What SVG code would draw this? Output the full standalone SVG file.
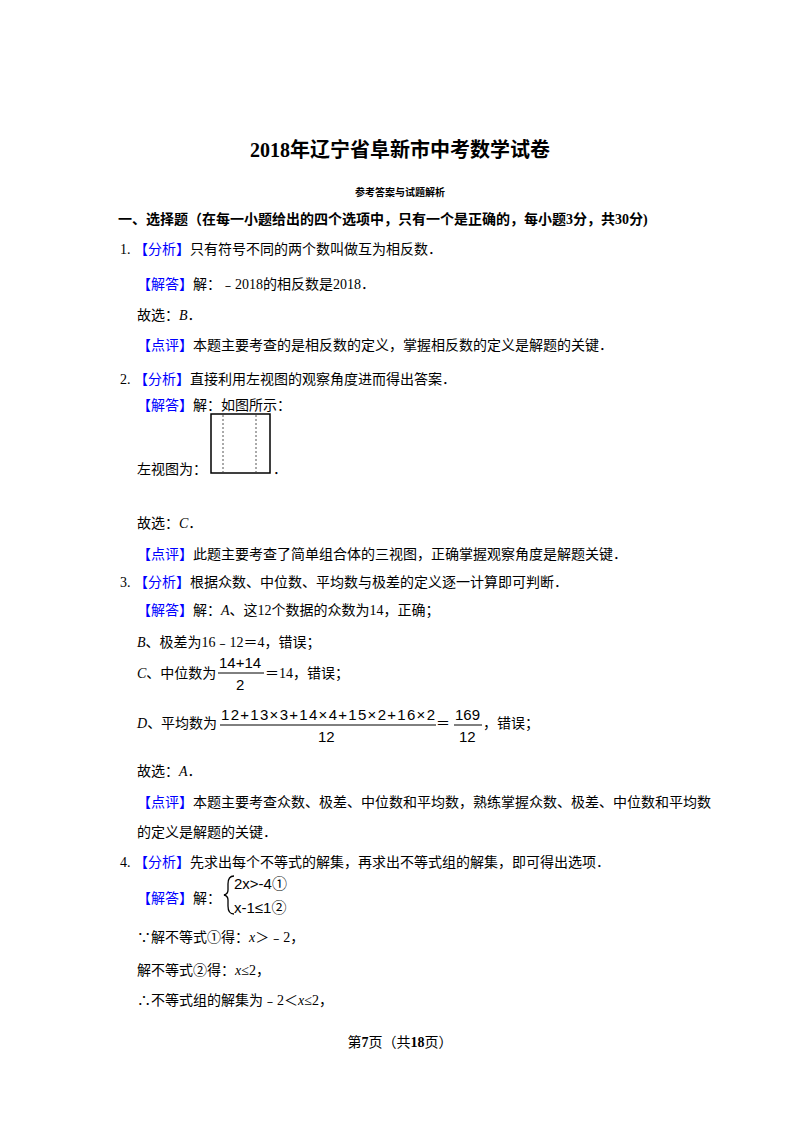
<svg xmlns="http://www.w3.org/2000/svg" width="800" height="1132" viewBox="0 0 800 1132">
<style>
text{font-family:"Liberation Serif","Noto Sans CJK SC",serif;font-size:14px;fill:#000}
.b{fill:#0000ff}
.t{font-size:20px;font-weight:bold}
.h{font-weight:bold;font-size:14px}
.s{font-size:10px;font-weight:bold}
.m{font-family:"Liberation Sans","Noto Sans CJK SC",sans-serif;font-size:15px}
</style>
<rect width="800" height="1132" fill="#fff"/>
<text class="t" x="400" y="157" text-anchor="middle">2018年辽宁省阜新市中考数学试卷</text>
<text class="s" x="400" y="196" text-anchor="middle">参考答案与试题解析</text>
<text class="h" x="118" y="224">一、选择题（在每一小题给出的四个选项中，只有一个是正确的，每小题3分，共30分)</text>
<text x="120" y="254">1.  <tspan class="b">【分析】</tspan>只有符号不同的两个数叫做互为相反数．</text>
<text x="137" y="289"><tspan class="b">【解答】</tspan>解：﹣2018的相反数是2018．</text>
<text x="137" y="320">故选：<tspan font-style="italic">B</tspan>．</text>
<text x="137" y="350"><tspan class="b">【点评】</tspan>本题主要考查的是相反数的定义，掌握相反数的定义是解题的关键．</text>
<text x="120" y="384">2.  <tspan class="b">【分析】</tspan>直接利用左视图的观察角度进而得出答案．</text>
<text x="137" y="410"><tspan class="b">【解答】</tspan>解：如图所示：</text>
<g id="figure">
<rect x="211" y="414" width="59" height="59" fill="none" stroke="#000" stroke-width="1.5"/>
<line x1="223" y1="415" x2="223" y2="472" stroke="#555" stroke-dasharray="2,2"/>
<line x1="256" y1="415" x2="256" y2="472" stroke="#555" stroke-dasharray="2,2"/>
</g>
<text x="137" y="474">左视图为：</text>
<text x="273" y="474">．</text>
<text x="137" y="528">故选：<tspan font-style="italic">C</tspan>．</text>
<text x="137" y="559"><tspan class="b">【点评】</tspan>此题主要考查了简单组合体的三视图，正确掌握观察角度是解题关键．</text>
<text x="120" y="587">3.  <tspan class="b">【分析】</tspan>根据众数、中位数、平均数与极差的定义逐一计算即可判断．</text>
<text x="137" y="615"><tspan class="b">【解答】</tspan>解：<tspan font-style="italic">A</tspan>、这12个数据的众数为14，正确；</text>
<text x="137" y="647"><tspan font-style="italic">B</tspan>、极差为16﹣12＝4，错误；</text>
<text x="137" y="678"><tspan font-style="italic">C</tspan>、中位数为</text>
<text class="m" x="219" y="668">14+14</text>
<line x1="218" y1="673" x2="264" y2="673" stroke="#000"/>
<text class="m" x="236" y="690">2</text>
<text x="265" y="678">＝14，错误；</text>
<text x="137" y="728"><tspan font-style="italic">D</tspan>、平均数为</text>
<text class="m" x="221" y="720" textLength="214">12+13×3+14×4+15×2+16×2</text>
<line x1="220" y1="725" x2="436" y2="725" stroke="#000"/>
<text class="m" x="318" y="742">12</text>
<text x="436" y="728">＝</text>
<text class="m" x="455" y="720">169</text>
<line x1="454" y1="725" x2="482" y2="725" stroke="#000"/>
<text class="m" x="459" y="742">12</text>
<text x="483" y="728">，错误；</text>
<text x="137" y="776">故选：<tspan font-style="italic">A</tspan>．</text>
<text x="137" y="807"><tspan class="b">【点评】</tspan>本题主要考查众数、极差、中位数和平均数，熟练掌握众数、极差、中位数和平均数</text>
<text x="137" y="837">的定义是解题的关键．</text>
<text x="120" y="867">4.  <tspan class="b">【分析】</tspan>先求出每个不等式的解集，再求出不等式组的解集，即可得出选项．</text>
<text x="137" y="903"><tspan class="b">【解答】</tspan>解：</text>
<path d="M234,876 Q228,876 228,884 L228,890 Q228,894 224,895 Q228,896 228,900 L228,906 Q228,914 234,914" fill="none" stroke="#000" stroke-width="1.3"/>
<text class="m" x="234" y="889">2x&gt;-4①</text>
<text class="m" x="234" y="913">x-1≤1②</text>
<text x="137" y="942">∵解不等式①得：<tspan font-style="italic">x</tspan>＞﹣2，</text>
<text x="137" y="975">解不等式②得：<tspan font-style="italic">x</tspan>≤2，</text>
<text x="137" y="1005">∴不等式组的解集为﹣2＜<tspan font-style="italic">x</tspan>≤2，</text>
<text x="400" y="1047" text-anchor="middle" font-size="12">第<tspan font-weight="bold">7</tspan>页（共<tspan font-weight="bold">18</tspan>页）</text>
</svg>
